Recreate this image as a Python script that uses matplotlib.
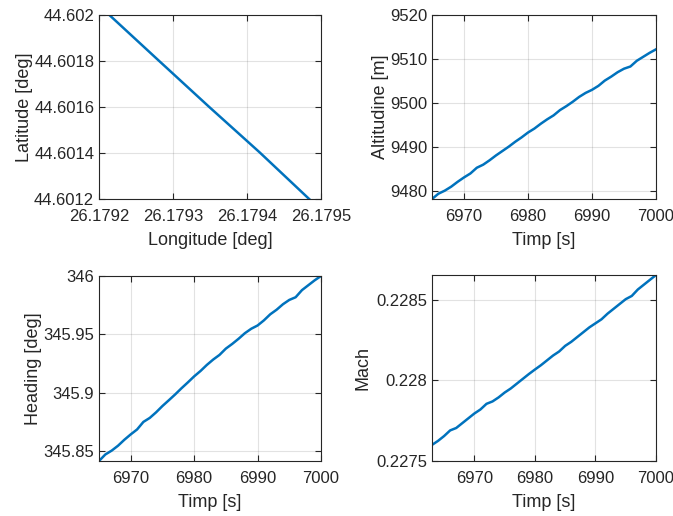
import matplotlib
matplotlib.use("Agg")
import matplotlib.pyplot as plt
from matplotlib.ticker import FuncFormatter

plt.rcParams['font.family'] = ['Liberation Sans', 'DejaVu Sans']

# ---- data ----
lon = [26.179214, 26.179280, 26.179349, 26.179417, 26.179484]
lat = [44.602000, 44.601804, 44.601600, 44.601403, 44.601200]

t_alt = list(range(6965, 7001))
altitude = [9478.2, 9479.4, 9480.1, 9481.0, 9482.1, 9483.1, 9484.0, 9485.3, 9486.0,
            9487.0, 9488.1, 9489.1, 9490.1, 9491.2, 9492.2, 9493.3, 9494.2, 9495.3,
            9496.3, 9497.2, 9498.4, 9499.3, 9500.3, 9501.4, 9502.3, 9503.0, 9503.9,
            9505.1, 9506.0, 9507.0, 9507.8, 9508.3, 9509.6, 9510.5, 9511.4, 9512.2]

t_hdg = list(range(6965, 7001))
heading = [345.8415, 345.8471, 345.8504, 345.8546, 345.8597, 345.8643, 345.8685,
           345.8750, 345.8784, 345.8832, 345.8886, 345.8935, 345.8985, 345.9038,
           345.9088, 345.9140, 345.9186, 345.9238, 345.9284, 345.9324, 345.9378,
           345.9418, 345.9462, 345.9510, 345.9548, 345.9576, 345.9620, 345.9672,
           345.9711, 345.9758, 345.9795, 345.9818, 345.9879, 345.9921, 345.9963,
           346.0000]

t_mach = list(range(6963, 7001))
mach = [0.227600, 0.227625, 0.227655, 0.227690, 0.227705, 0.227735, 0.227765,
        0.227795, 0.227820, 0.227855, 0.227870, 0.227895, 0.227925, 0.227950,
        0.227980, 0.228010, 0.228040, 0.228068, 0.228095, 0.228125, 0.228155,
        0.228180, 0.228215, 0.228240, 0.228270, 0.228300, 0.228330, 0.228355,
        0.228380, 0.228415, 0.228445, 0.228475, 0.228505, 0.228525, 0.228565,
        0.228595, 0.228625, 0.228655]

lon_ticks = [26.1792, 26.1793, 26.1794, 26.1795]
lat_ticks = [44.6012, 44.6014, 44.6016, 44.6018, 44.6020]
time_ticks = [6970, 6980, 6990, 7000]
alt_ticks = [9480, 9490, 9500, 9510, 9520]
hdg_ticks = [345.85, 345.9, 345.95, 346.0]
mach_ticks = [0.2275, 0.228, 0.2285]

# ---- figure ----
W, H = 673, 516
fig = plt.figure(figsize=(W / 100, H / 100), dpi=100)

def pos(l, r, t, b):
    return [l / W, 1 - b / H, (r - l) / W, (b - t) / H]

fmt = FuncFormatter(lambda v, p: ('%.6f' % v).rstrip('0').rstrip('.'))
line_color = '#0072BD'
edge = '#262626'

def style(ax):
    for s in ax.spines.values():
        s.set_color(edge)
        s.set_linewidth(0.8)
    ax.tick_params(direction='in', top=True, right=True, length=4, width=0.8,
                   colors=edge, labelsize=12, labelcolor=edge)
    ax.tick_params(axis='x', pad=7)
    ax.grid(True, color='#262626', alpha=0.13, linewidth=0.8)
    ax.set_axisbelow(True)
    ax.yaxis.set_major_formatter(fmt)
    ax.xaxis.set_major_formatter(fmt)

lab_kw = dict(fontsize=13, color=edge)

ax1 = fig.add_axes(pos(99, 321, 15, 199))
ax1.plot(lon, lat, color=line_color, linewidth=1.8)
ax1.set_xlim(26.1792, 26.1795)
ax1.set_ylim(44.6012, 44.6020)
ax1.set_xticks(lon_ticks)
ax1.set_yticks(lat_ticks)
style(ax1)
ax1.set_xlabel('Longitude [deg]', labelpad=6, **lab_kw)
ax1.set_ylabel('Latitude [deg]', labelpad=1, **lab_kw)

ax2 = fig.add_axes(pos(432, 656, 15, 199))
ax2.plot(t_alt, altitude, color=line_color, linewidth=1.8)
ax2.set_xlim(6965, 7000)
ax2.set_ylim(9478.2, 9520)
ax2.set_xticks(time_ticks)
ax2.set_yticks(alt_ticks)
style(ax2)
ax2.set_xlabel('Timp [s]', labelpad=6, **lab_kw)
ax2.set_ylabel('Altitudine [m]', labelpad=1, **lab_kw)

ax3 = fig.add_axes(pos(99, 321, 276, 461))
ax3.plot(t_hdg, heading, color=line_color, linewidth=1.8)
ax3.set_xlim(6965, 7000)
ax3.set_ylim(345.8415, 346.0)
ax3.set_xticks(time_ticks)
ax3.set_yticks(hdg_ticks)
style(ax3)
ax3.set_xlabel('Timp [s]', labelpad=6, **lab_kw)
ax3.set_ylabel('Heading [deg]', labelpad=1, **lab_kw)

ax4 = fig.add_axes(pos(432, 656, 275, 461))
ax4.plot(t_mach, mach, color=line_color, linewidth=1.8)
ax4.set_xlim(6963, 7000)
ax4.set_ylim(0.2275, 0.228655)
ax4.set_xticks(time_ticks)
ax4.set_yticks(mach_ticks)
style(ax4)
ax4.set_xlabel('Timp [s]', labelpad=6, **lab_kw)
ax4.set_ylabel('Mach', labelpad=3, **lab_kw)

fig.savefig('out.png', dpi=100)
